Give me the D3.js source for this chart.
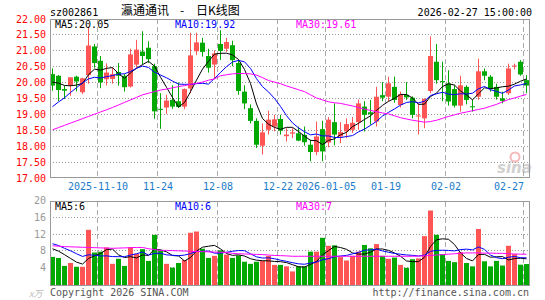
<!DOCTYPE html>
<html>
<head>
<meta charset="utf-8">
<script src="https://cdn.jsdelivr.net/npm/d3@7"></script>
<style>
  body { margin: 0; background: #fff; }
  svg { display: block; }
</style>
</head>
<body>
<div id="chart"></div>
<script>
// trading days shown in the window
var dates = [
  "2025-10-29","2025-10-30","2025-10-31",
  "2025-11-03","2025-11-04","2025-11-05","2025-11-06","2025-11-07",
  "2025-11-10","2025-11-11","2025-11-12","2025-11-13","2025-11-14",
  "2025-11-17","2025-11-18","2025-11-19","2025-11-20","2025-11-21",
  "2025-11-24","2025-11-25","2025-11-26","2025-11-27","2025-11-28",
  "2025-12-01","2025-12-02","2025-12-03","2025-12-04","2025-12-05",
  "2025-12-08","2025-12-09","2025-12-10","2025-12-11","2025-12-12",
  "2025-12-15","2025-12-16","2025-12-17","2025-12-18","2025-12-19",
  "2025-12-22","2025-12-23","2025-12-24","2025-12-25","2025-12-26",
  "2025-12-29","2025-12-30","2025-12-31",
  "2026-01-05","2026-01-06","2026-01-07","2026-01-08","2026-01-09",
  "2026-01-12","2026-01-13","2026-01-14","2026-01-15","2026-01-16",
  "2026-01-19","2026-01-20","2026-01-21","2026-01-22","2026-01-23",
  "2026-01-26","2026-01-27","2026-01-28","2026-01-29","2026-01-30",
  "2026-02-02","2026-02-03","2026-02-04","2026-02-05","2026-02-06",
  "2026-02-09","2026-02-10","2026-02-11","2026-02-12","2026-02-13",
  "2026-02-24","2026-02-25","2026-02-26","2026-02-27"
];

var open = [20.25,20.2,19.78,19.89,20.17,19.68,20.22,21.12,20.67,20.09,
  20.1,20.32,20.2,19.86,20.55,20.96,21.08,20.5,19.16,19.2,
  19.44,19.4,19.23,19.8,20.97,21.24,20.82,20.55,21.2,21.05,
  21.16,20.6,19.7,19.18,18.78,18.0,18.5,18.6,18.84,18.3,
  18.38,18.39,18.34,18.03,17.8,18.52,18.1,18.74,18.29,18.45,
  18.5,18.74,19.23,19.05,18.76,19.59,19.54,19.85,19.28,19.6,
  19.51,18.93,18.86,19.72,20.64,20.03,19.96,19.78,19.26,19.85,
  19.24,19.54,20.34,20.17,19.85,19.49,19.65,20.5,20.64,20.06];
var high = [20.43,20.22,19.88,20.15,20.2,20.14,21.75,21.2,20.82,20.59,
  20.45,20.6,20.25,21.05,21.33,21.6,21.28,20.58,19.65,19.6,
  19.9,19.99,19.8,21.55,21.55,21.39,21.05,21.0,21.63,21.39,
  21.3,20.7,19.9,19.3,18.86,18.7,19.1,18.97,18.97,18.55,
  18.55,18.6,18.6,18.19,18.76,18.78,18.9,19.33,18.74,18.86,
  18.9,19.45,19.4,19.44,19.85,20.0,20.17,20.17,19.7,20.0,
  19.55,19.33,19.49,21.44,21.2,20.64,20.37,19.9,20.2,19.9,
  19.44,20.74,20.43,20.22,19.95,19.7,20.58,20.58,20.69,20.22];
var low = [19.73,19.4,19.47,19.57,19.71,19.62,19.95,20.45,19.81,19.89,
  19.95,19.89,19.7,19.83,20.45,20.56,20.6,18.85,18.53,19.0,
  19.16,19.19,19.15,19.65,20.85,20.8,20.3,20.1,20.7,20.95,
  20.5,19.6,19.15,18.7,17.93,17.72,18.35,18.45,18.35,18.13,
  18.24,18.14,18.0,17.51,17.7,17.51,17.95,18.01,18.08,18.24,
  18.4,18.5,18.45,18.66,18.6,19.4,19.4,19.35,19.2,19.44,
  18.86,18.35,18.55,19.65,19.95,19.4,19.26,19.2,19.07,19.3,
  19.07,19.44,20.06,19.7,19.45,19.33,19.6,20.4,20.2,19.65];
var close = [19.89,19.75,19.73,20.15,20.02,20.12,21.15,20.6,19.99,20.3,
  20.25,20.2,19.84,20.87,21.02,20.82,20.72,19.08,19.14,19.42,
  19.23,19.22,19.78,20.84,21.25,20.95,20.45,20.9,20.98,21.26,
  20.69,19.72,19.33,18.78,18.03,18.42,18.82,18.83,18.47,18.35,
  18.42,18.16,18.11,17.8,18.29,17.82,18.82,18.35,18.43,18.68,
  18.72,19.33,18.97,18.99,19.54,19.51,19.96,19.44,19.62,19.52,
  18.97,18.95,19.47,20.82,20.06,20.0,19.39,19.26,19.9,19.44,
  19.22,20.34,20.2,19.78,19.54,19.41,20.43,20.52,20.24,19.89];

// volume in 万手
var volume = [6.45,6.2,4.3,5.0,4.1,4.1,12.9,7.5,7.7,8.7,
  4.8,6.0,4.3,8.75,7.2,8.3,5.5,11.7,8.0,4.8,
  3.9,5.0,5.7,12.2,12.5,8.4,6.2,6.7,8.0,7.0,
  6.2,6.8,5.3,4.8,5.3,5.5,6.7,4.55,4.55,4.2,
  3.0,4.2,4.2,7.7,7.7,11.0,9.1,9.2,6.4,5.6,
  6.7,7.7,9.3,8.5,9.5,6.7,6.0,6.3,4.55,3.85,
  5.9,6.1,11.4,17.5,11.7,7.1,5.5,5.2,7.6,5.0,
  4.2,13.1,5.4,4.2,5.5,4.4,9.1,7.1,4.6,4.75];

// sessions just before the window, only feed the short averages
var earlierClose = [18.3,18.4,18.5,18.5,18.6,19.9,20.1,20.2,19.9];
var earlierVolume = [10.5,11,10.8,11.2,10.5,9,8.5,9.5,8.5];

// 30-day averages
var ma30Price = [18.5,18.57,18.64,18.71,18.78,18.85,18.92,18.99,19.06,19.13,
  19.2,19.28,19.36,19.44,19.52,19.6,19.65,19.7,19.75,19.78,
  19.82,19.86,19.89,19.93,19.96,20.0,20.06,20.1,20.2,20.23,
  20.26,20.27,20.27,20.26,20.22,20.14,20.05,20.0,19.95,19.88,
  19.82,19.76,19.7,19.6,19.5,19.44,19.38,19.35,19.33,19.29,
  19.25,19.2,19.15,19.11,19.07,19.03,19.0,18.94,18.88,18.84,
  18.8,18.77,18.74,18.76,18.8,18.86,18.92,18.97,19.02,19.06,
  19.1,19.14,19.18,19.24,19.3,19.38,19.45,19.5,19.56,19.61];
var ma30Volume = [9.1,9.0,8.9,8.85,8.8,8.75,8.7,8.65,8.6,8.55,
  8.5,8.55,8.6,8.65,8.7,8.7,8.4,8.2,8.0,8.0,
  7.95,7.9,7.85,7.8,7.75,7.7,7.65,7.6,7.55,7.5,
  7.3,7.2,7.15,7.1,7.05,7.0,6.9,6.8,6.75,6.7,
  6.6,6.6,6.6,6.6,6.6,6.6,6.6,6.6,6.6,6.6,
  6.6,6.6,6.6,6.6,6.6,6.6,6.6,6.6,6.6,6.6,
  6.6,6.65,6.7,6.8,6.9,7.0,7.1,7.2,7.3,7.4,
  7.4,7.4,7.35,7.35,7.3,7.3,7.2,7.15,7.1,7.1];

var tickDates = ["2025-11-10","2025-11-24","2025-12-08","2025-12-22","2026-01-05","2026-01-19","2026-02-02","2026-02-27"];
var tickLabels = ["2025-11-10","11-24","12-08","12-22","2026-01-05","01-19","02-02","02-27"];
var priceTicks = [22,21.5,21,20.5,20,19.5,19,18.5,18,17.5,17];
var volumeTicks = [20,16,12,8,4];

var maTitles = ["MA5:20.05","MA10:19.92","MA30:19.61"];
var volMaTitles = ["MA5:6","MA10:6","MA30:7"];

var W = 545, H = 300;
var left = 50, right = 529;
var up = "#ff5555", down = "#00a800";
var maColors = ["#000000", "#0000ff", "#ff00ff"];
var mono = "'DejaVu Sans Mono', monospace";
var cjk = "'Noto Sans CJK SC', sans-serif";

function movingAvg(prev, vals, n) {
  var all = prev.concat(vals);
  return vals.map(function (v, i) {
    var s = 0;
    for (var k = 0; k < n; k++) s += all[prev.length + i - k];
    return s / n;
  });
}

var svg = d3.select("#chart").append("svg").attr("width", W).attr("height", H);

var x = d3.scaleBand().domain(dates).range([left, right]).paddingInner(1 / 6).paddingOuter(0);
var cx = function (d) { return x(d) + x.bandwidth() / 2; };
var y = d3.scaleLinear().domain([17, 22]).range([177.5, 18.5]);
var yv = d3.scaleLinear().domain([0, 20]).range([284, 200]);

// header
svg.append("text").attr("x", 50).attr("y", 15.5).attr("font-family", mono).attr("font-size", 10)
  .attr("fill", "#000").text("sz002861");
svg.append("text").attr("x", 121).attr("y", 15).attr("font-family", cjk)
  .attr("font-size", 12).attr("fill", "#000").text("瀛通通讯");
svg.append("text").attr("x", 182).attr("y", 15).attr("text-anchor", "middle").attr("font-family", cjk)
  .attr("font-size", 12).attr("fill", "#000").text("-");
svg.append("text").attr("x", 196).attr("y", 15).attr("font-family", cjk)
  .attr("font-size", 12).attr("fill", "#000").text("日K线图");
svg.append("text").attr("x", 532).attr("y", 15.5).attr("text-anchor", "end").attr("font-family", mono)
  .attr("font-size", 10).attr("fill", "#000").text("2026-02-27 15:00:00");

// grids
function hgrid(vals, sc) {
  svg.append("g").selectAll("line").data(vals).enter().append("line")
    .attr("x1", left).attr("x2", right)
    .attr("y1", function (d) { return Math.round(sc(d)) + 0.5; })
    .attr("y2", function (d) { return Math.round(sc(d)) + 0.5; })
    .attr("stroke", "#999").attr("stroke-dasharray", "1,2");
}
hgrid(priceTicks.slice(1, -1), y);
hgrid(volumeTicks.slice(1), yv);

function vgrid(y1, y2) {
  svg.append("g").selectAll("line").data(tickDates).enter().append("line")
    .attr("x1", function (d) { return x(d) - 0.5; }).attr("x2", function (d) { return x(d) - 0.5; })
    .attr("y1", y1).attr("y2", y2)
    .attr("stroke", "#aaa").attr("stroke-dasharray", "5,3");
}
vgrid(19, 177);
vgrid(202, 285);

// price labels
svg.append("g").selectAll("text").data(priceTicks).enter().append("text")
  .attr("x", 46).attr("y", function (d) { return y(d) + 4; })
  .attr("text-anchor", "end").attr("font-family", mono).attr("font-size", 10).attr("fill", "#ff0000")
  .text(function (d) { return d3.format(".2f")(d); });

// volume labels
svg.append("g").selectAll("text").data(volumeTicks).enter().append("text")
  .attr("x", 46).attr("y", function (d) { return yv(d) + 4; })
  .attr("text-anchor", "end").attr("font-family", mono).attr("font-size", 10).attr("fill", "#999")
  .text(function (d) { return d; });
svg.append("text").attr("x", 29).attr("y", 297).attr("font-family", cjk)
  .attr("font-size", 9).attr("font-style", "italic").attr("fill", "#bbb").text("x万");

// date labels, the last one is kept inside the frame
svg.append("g").selectAll("text").data(tickDates).enter().append("text")
  .attr("x", function (d) { return x(d); })
  .attr("text-anchor", function (d, i) { return x(d) + tickLabels[i].length * 3 > right ? "end" : "middle"; })
  .attr("y", 190).attr("font-family", mono).attr("font-size", 10).attr("fill", "#1a7cc8")
  .text(function (d, i) { return tickLabels[i]; });

// watermark
var wm = svg.append("g").attr("opacity", 0.55);
wm.append("circle").attr("cx", 515).attr("cy", 157).attr("r", 4.5).attr("fill", "none")
  .attr("stroke", "#f08080").attr("stroke-width", 2);
wm.append("text").attr("x", 497).attr("y", 173).attr("font-family", "'DejaVu Sans', sans-serif")
  .attr("font-size", 15).attr("font-weight", "bold").attr("font-style", "italic").attr("fill", "#aaa").text("sina");

// candles
var idx = d3.range(dates.length);
var candles = svg.append("g").selectAll("g").data(idx).enter().append("g");
candles.append("line")
  .attr("x1", function (i) { return cx(dates[i]); }).attr("x2", function (i) { return cx(dates[i]); })
  .attr("y1", function (i) { return y(high[i]); }).attr("y2", function (i) { return y(low[i]); })
  .attr("stroke", function (i) { return close[i] >= open[i] ? up : down; });
candles.append("rect")
  .attr("x", function (i) { return x(dates[i]); }).attr("width", x.bandwidth())
  .attr("y", function (i) { return y(Math.max(open[i], close[i])); })
  .attr("height", function (i) { return Math.max(1, Math.abs(y(open[i]) - y(close[i]))); })
  .attr("fill", function (i) { return close[i] >= open[i] ? up : down; });

// volume bars
svg.append("g").selectAll("rect").data(idx).enter().append("rect")
  .attr("x", function (i) { return x(dates[i]); }).attr("width", x.bandwidth())
  .attr("y", function (i) { return yv(volume[i]); })
  .attr("height", function (i) { return 285.5 - yv(volume[i]); })
  .attr("fill", function (i) { return close[i] >= open[i] ? up : down; });

// moving averages
var priceMas = [movingAvg(earlierClose, close, 5), movingAvg(earlierClose, close, 10), ma30Price];
var volMas = [movingAvg(earlierVolume, volume, 5), movingAvg(earlierVolume, volume, 10), ma30Volume];

function drawMas(series, sc) {
  series.forEach(function (vals, k) {
    var line = d3.line().x(function (v, i) { return cx(dates[i]); }).y(function (v) { return sc(v); });
    svg.append("path").datum(vals).attr("d", line).attr("fill", "none")
      .attr("stroke", maColors[k]).attr("stroke-width", 1);
  });
}
drawMas(priceMas, y);
drawMas(volMas, yv);

// frames
svg.append("rect").attr("x", 50.5).attr("y", 19.5).attr("width", 479).attr("height", 158)
  .attr("fill", "none").attr("stroke", "#999");
svg.append("rect").attr("x", 50.5).attr("y", 201.5).attr("width", 479).attr("height", 84)
  .attr("fill", "none").attr("stroke", "#999");

// MA titles
var titleX = [55, 175, 296];
maTitles.forEach(function (t, k) {
  svg.append("text").attr("x", titleX[k]).attr("y", 28).attr("font-family", mono).attr("font-size", 10)
    .attr("fill", maColors[k]).text(t);
});
volMaTitles.forEach(function (t, k) {
  svg.append("text").attr("x", titleX[k]).attr("y", 210).attr("font-family", mono).attr("font-size", 10)
    .attr("fill", maColors[k]).text(t);
});

// footer
svg.append("text").attr("x", 50).attr("y", 296).attr("font-family", mono).attr("font-size", 10)
  .attr("fill", "#555").text("Copyright 2026 SINA.COM");
svg.append("text").attr("x", 529).attr("y", 296).attr("text-anchor", "end").attr("font-family", mono)
  .attr("font-size", 10).attr("fill", "#555").text("http://finance.sina.com.cn");
</script>
</body>
</html>
